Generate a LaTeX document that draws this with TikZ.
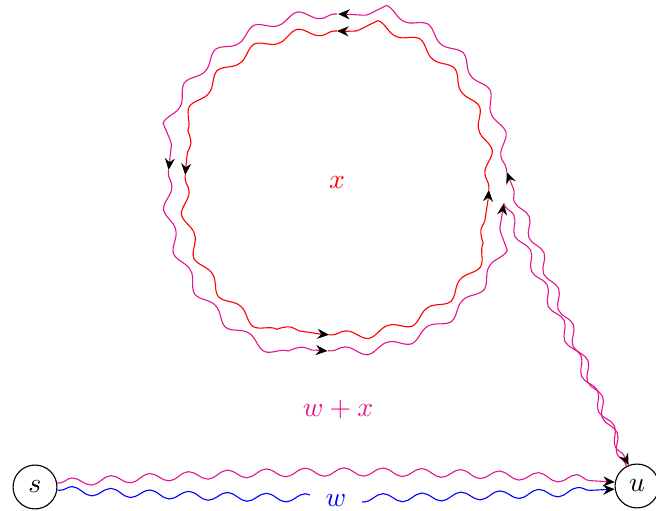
\documentclass[tikz,border=0pt]{standalone}
\usetikzlibrary{decorations.pathmorphing,arrows.meta,calc}
\definecolor{mag}{RGB}{230,20,140}
\begin{document}
\begin{tikzpicture}[x=0.36pt,y=0.36pt,
  wave/.style={decorate, decoration={snake, amplitude=1.5pt, segment length=14pt, pre length=1pt, post length=3.5pt},
    -{Stealth[black,length=4.2pt,width=3.6pt,inset=1.4pt]}},
  loopwave/.style={wave, decoration={amplitude=1.6pt, segment length=16pt}},
  vtx/.style={draw, circle, minimum size=15.8pt, inner sep=0pt}]
\useasboundingbox (0,0) rectangle (656,511);
\node[vtx] (s) at (35,24) {$s$};
\node[vtx] (u) at (637,25) {$u$};
\coordinate (C) at (337,328);
% red loop points
\coordinate (rR) at ($(C)+(-2.6:152)$);
\coordinate (rT) at ($(C)+(90:152)$);
\coordinate (rL) at ($(C)+(177:152)$);
\coordinate (rB) at ($(C)+(267:152)$);
% magenta loop points
\coordinate (mR) at ($(C)+(3.7:170)$);
\coordinate (mT) at ($(C)+(90:169)$);
\coordinate (mL) at ($(C)+(175.6:169)$);
\coordinate (mB) at ($(C)+(267:168)$);
\coordinate (mR2) at ($(C)+(-7:168)$);
% red loop
\draw[loopwave, red] (rR) arc[start angle=-2.6, end angle=90, radius=54.72pt];
\draw[loopwave, red] (rT) arc[start angle=90, end angle=177, radius=54.72pt];
\draw[loopwave, red] (rL) arc[start angle=177, end angle=267, radius=54.72pt];
\draw[loopwave, red] (rB) arc[start angle=267, end angle=357.4, radius=54.72pt];
% magenta loop
\draw[wave, mag] (u.118) -- (mR);
\draw[loopwave, mag] (mR) arc[start angle=3.7, end angle=90, radius=60.8pt];
\draw[loopwave, mag] (mT) arc[start angle=90, end angle=175.6, radius=60.8pt];
\draw[loopwave, mag] (mL) arc[start angle=175.6, end angle=267, radius=60.6pt];
\draw[loopwave, mag] (mB) arc[start angle=267, end angle=353, radius=60.5pt];
\draw[wave, mag] (mR2) -- (u.112);
% bottom lines
\draw[wave, blue] (s.-8) to[bend right=2.8] node[fill=white, text=blue, inner xsep=5.6pt, inner ysep=1.5pt, yshift=-1pt] (wl) {$w$} (u.-172);
\draw[wave, mag] (s.10) to[bend left=3.5] (u.170);
% labels
\node[text=red] (xl) at (C) {$x$};
\node[text=mag] (wxl) at (338,101) {$w+x$};
\end{tikzpicture}
\end{document}
